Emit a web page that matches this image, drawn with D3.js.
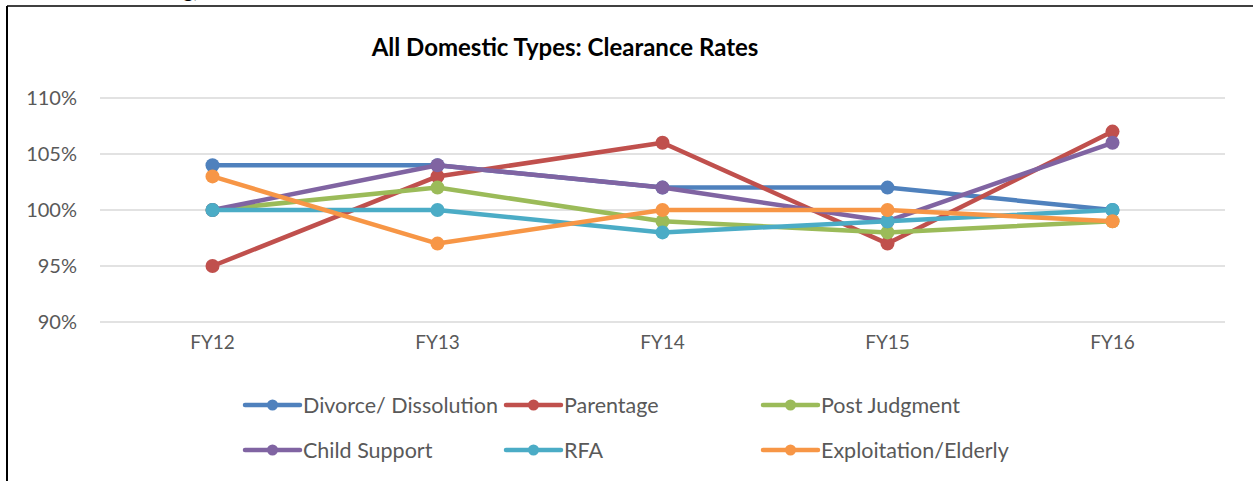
<!DOCTYPE html>
<html>
<head>
<meta charset="utf-8">
<script src="https://cdn.jsdelivr.net/npm/d3@7"></script>
<style>
    body { margin: 0; background: #fff; }
    #chart { width: 1253px; height: 481px; }
    text { font-family: Lato, "Open Sans", sans-serif; }
</style>
</head>
<body>
<div id="chart"></div>
<script>
const years = ["FY12", "FY13", "FY14", "FY15", "FY16"];
const yTicks = [90, 95, 100, 105, 110];

const divorce = [104, 104, 102, 102, 100];
const parentage = [95, 103, 106, 97, 107];
const postJudgment = [100, 102, 99, 98, 99];
const childSupport = [100, 104, 102, 99, 106];
const rfa = [100, 100, 98, 99, 100];
const exploitation = [103, 97, 100, 100, 99];

const seriesNames = ["Divorce/ Dissolution", "Parentage", "Post Judgment", "Child Support", "RFA", "Exploitation/Elderly"];
const seriesValues = [divorce, parentage, postJudgment, childSupport, rfa, exploitation];
const seriesColors = ["#4F81BD", "#C0504D", "#9BBB59", "#8064A2", "#4BACC6", "#F79646"];

const series = seriesNames.map((name, i) => ({
    name: name,
    color: seriesColors[i],
    values: seriesValues[i].map((v, j) => ({ year: years[j], value: v }))
}));

const svg = d3.select("#chart")
    .append("svg")
    .attr("width", 1253)
    .attr("height", 481);

// frame of the embedded chart
svg.append("line")
    .attr("x1", 7).attr("x2", 1253)
    .attr("y1", 6).attr("y2", 6)
    .attr("stroke", "#000").attr("stroke-width", 1.5);
svg.append("line")
    .attr("x1", 7).attr("x2", 7)
    .attr("y1", 6).attr("y2", 481)
    .attr("stroke", "#000").attr("stroke-width", 2);

// tail of the page text above the chart (cut off in the original too)
svg.append("text")
    .attr("x", 183)
    .attr("y", -2)
    .style("font-size", "20px")
    .attr("fill", "#000")
    .text("g,");

svg.append("text")
    .attr("x", 565)
    .attr("y", 56)
    .attr("text-anchor", "middle")
    .style("font-size", "24px")
    .style("font-weight", "bold")
    .attr("fill", "#000")
    .text("All Domestic Types: Clearance Rates");

const x = d3.scaleBand()
    .domain(years)
    .range([100, 1225]);

const y = d3.scaleLinear()
    .domain([90, 110])
    .range([322, 98]);

svg.selectAll(".grid-line")
    .data(yTicks)
    .enter()
    .append("line")
    .attr("class", "grid-line")
    .attr("x1", 100)
    .attr("x2", 1225)
    .attr("y1", d => y(d))
    .attr("y2", d => y(d))
    .attr("stroke", "#d9d9d9")
    .attr("stroke-width", 1.3);

const yAxis = svg.append("g")
    .attr("transform", "translate(100,0)")
    .call(d3.axisLeft(y).tickValues(yTicks).tickFormat(d => d + "%").tickSize(0).tickPadding(23));
yAxis.select(".domain").remove();
yAxis.selectAll("text")
    .style("font-family", "Lato, sans-serif")
    .style("font-size", "20px")
    .attr("fill", "#595959");

const xAxis = svg.append("g")
    .attr("transform", "translate(0,322)")
    .call(d3.axisBottom(x).tickSize(0).tickPadding(14));
xAxis.select(".domain").remove();
xAxis.selectAll("text")
    .style("font-family", "Lato, sans-serif")
    .style("font-size", "19px")
    .attr("fill", "#595959");

const line = d3.line()
    .x(d => x(d.year) + x.bandwidth() / 2)
    .y(d => y(d.value));

series.forEach((s, i) => {
    svg.append("path")
        .datum(s.values)
        .attr("d", line)
        .attr("fill", "none")
        .attr("stroke", s.color)
        .attr("stroke-width", 4.5)
        .attr("stroke-linejoin", "round");
    svg.selectAll(".pt-" + i)
        .data(s.values)
        .enter()
        .append("circle")
        .attr("class", "pt-" + i)
        .attr("cx", d => x(d.year) + x.bandwidth() / 2)
        .attr("cy", d => y(d.value))
        .attr("r", 7)
        .attr("fill", s.color);
});

// legend, 3 columns x 2 rows
const legendCols = [245, 506, 763];
const legendRows = [405, 450];

series.forEach((s, i) => {
    const lx = legendCols[i % 3];
    const ly = legendRows[Math.floor(i / 3)];
    const g = svg.append("g").attr("transform", `translate(${lx},${ly})`);
    g.append("line")
        .attr("x1", 0).attr("x2", 55)
        .attr("y1", 0).attr("y2", 0)
        .attr("stroke", s.color)
        .attr("stroke-width", 4.5)
        .attr("stroke-linecap", "round");
    g.append("circle")
        .attr("cx", 27.5).attr("cy", 0)
        .attr("r", 5.5)
        .attr("fill", s.color);
    g.append("text")
        .attr("x", 58)
        .attr("y", 0)
        .attr("dy", "0.35em")
        .style("font-size", "21.5px")
        .attr("fill", "#595959")
        .text(s.name);
});
</script>
</body>
</html>
